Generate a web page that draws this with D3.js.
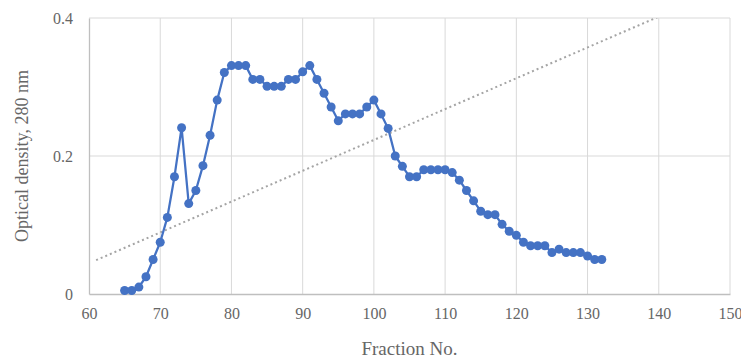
<!DOCTYPE html>
<html><head><meta charset="utf-8">
<script src="https://cdn.jsdelivr.net/npm/d3@7"></script>
<style>body{margin:0;background:#fff}svg{display:block}</style>
</head><body>
<script>
const fractions = d3.range(65, 133);
const density = [0.005,0.005,0.01,0.025,0.05,0.075,0.111,0.17,0.241,0.131,0.15,0.186,0.23,0.281,0.321,0.331,0.331,0.331,0.311,0.311,0.301,0.301,0.301,0.311,0.311,0.322,0.331,0.311,0.291,0.271,0.251,0.261,0.261,0.261,0.271,0.281,0.261,0.24,0.2,0.185,0.17,0.17,0.18,0.18,0.18,0.18,0.176,0.165,0.15,0.135,0.12,0.115,0.115,0.101,0.091,0.085,0.075,0.07,0.07,0.07,0.06,0.065,0.06,0.06,0.06,0.055,0.05,0.05];
const trendX = [61, 140];
const trendY = [0.049, 0.402];
const xTicks = [60,70,80,90,100,110,120,130,140,150];
const yTicks = [0, 0.2, 0.4];
const yTickLabels = ["0", "0.2", "0.4"];

const W = 741, H = 363;
const m = {left: 89, right: 11, top: 18, bottom: 69};
const svg = d3.select("body").append("svg").attr("width", W).attr("height", H);
const x = d3.scaleLinear().domain([60,150]).range([m.left, W - m.right]);
const y = d3.scaleLinear().domain([0,0.4]).range([H - m.bottom, m.top]);
const font = "'Liberation Serif', 'DejaVu Serif', serif";
const grey = "#d9d9d9";
const textCol = "#666666";

// gridlines
svg.append("g").selectAll("line").data(xTicks.slice(1)).join("line")
  .attr("x1", d => x(d)).attr("x2", d => x(d)).attr("y1", y(0)).attr("y2", y(0.4))
  .attr("stroke", grey).attr("stroke-width", 1);
svg.append("g").selectAll("line").data(yTicks.slice(1)).join("line")
  .attr("x1", x(60)).attr("x2", x(150)).attr("y1", d => y(d)).attr("y2", d => y(d))
  .attr("stroke", grey).attr("stroke-width", 1);

// axes
const xAxis = svg.append("g").attr("transform", `translate(0,${y(0)})`)
  .call(d3.axisBottom(x).tickValues(xTicks).tickSize(0).tickPadding(14).tickFormat(d3.format("d")));
const yAxis = svg.append("g").attr("transform", `translate(${x(60)},0)`)
  .call(d3.axisLeft(y).tickValues(yTicks).tickSize(0).tickPadding(16).tickFormat((d,i) => yTickLabels[i]));
[xAxis, yAxis].forEach(a => {
  a.select(".domain").attr("stroke", "#bfbfbf").attr("stroke-width", 1.3);
  a.selectAll("text").attr("fill", textCol).style("font-family", font).style("font-size", "16px");
});

// trendline
svg.append("clipPath").attr("id", "plotclip").append("rect")
  .attr("x", m.left).attr("y", m.top).attr("width", W - m.left - m.right).attr("height", H - m.top - m.bottom);
svg.append("path").datum(trendX.map((d,i) => [d, trendY[i]]))
  .attr("clip-path", "url(#plotclip)")
  .attr("d", d3.line().x(d => x(d[0])).y(d => y(d[1])))
  .attr("fill", "none").attr("stroke", "#a5a5a5").attr("stroke-width", 2)
  .attr("stroke-dasharray", "2,3").attr("stroke-linecap", "butt");

// series
const pts = fractions.map((f,i) => [f, density[i]]);
svg.append("path").datum(pts)
  .attr("d", d3.line().x(d => x(d[0])).y(d => y(d[1])))
  .attr("fill", "none").attr("stroke", "#4472c4").attr("stroke-width", 2.25).attr("stroke-linejoin", "round");
svg.append("g").selectAll("circle").data(pts).join("circle")
  .attr("cx", d => x(d[0])).attr("cy", d => y(d[1])).attr("r", 4.5)
  .attr("fill", "#4472c4");

// titles
svg.append("text").attr("x", (x(60)+x(150))/2).attr("y", 355).attr("text-anchor", "middle")
  .attr("fill", textCol).style("font-family", font).style("font-size", "19px").text("Fraction No.");
svg.append("text").attr("transform", `translate(28,156) rotate(-90)`)
  .attr("text-anchor", "middle").attr("fill", textCol)
  .style("font-family", font).style("font-size", "18px").text("Optical density, 280 nm");
</script>
</body></html>
